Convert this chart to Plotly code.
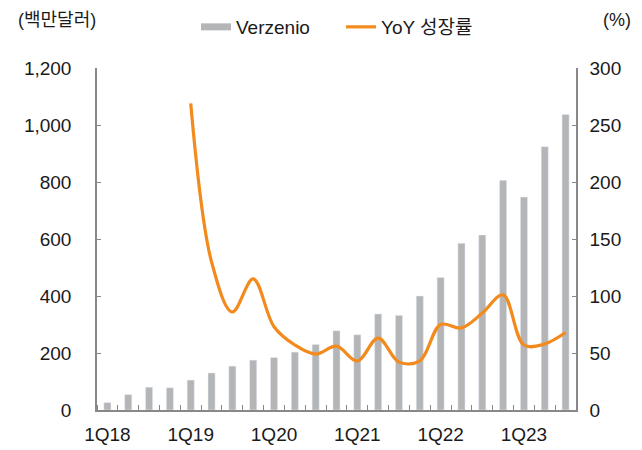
import plotly.graph_objects as go

quarters = ["1Q18","2Q18","3Q18","4Q18","1Q19","2Q19","3Q19","4Q19","1Q20","2Q20","3Q20","4Q20",
            "1Q21","2Q21","3Q21","4Q21","1Q22","2Q22","3Q22","4Q22","1Q23","2Q23","3Q23"]
verzenio = [26, 54, 80, 78, 105, 130, 154, 175, 184, 203, 230, 278,
            264, 337, 332, 400, 465, 585, 614, 806, 747, 924, 1037]
yoy = [None, None, None, None, 269, 130, 86, 115, 73, 57, 49, 56,
       43, 63, 42, 43, 75, 72, 85, 101, 57, 58, 68]
tick_labels = ["1Q18", "1Q19", "1Q20", "1Q21", "1Q22", "1Q23"]

idx = list(range(len(quarters)))
tick_idx = [quarters.index(t) for t in tick_labels]

FONT = "Liberation Sans, Noto Sans CJK KR, sans-serif"
GRAY = "#B4B5B7"
ORANGE = "#F28A1E"
AXIS = "#888888"

# page body has an 8px margin; figure is sized/positioned to compensate
W, H, OFF = 634, 442, 8

fig = go.Figure()
fig.add_trace(go.Bar(x=idx, y=verzenio, marker_color=GRAY, width=0.34,
                     showlegend=False, name="Verzenio"))
# legend proxy for bar series (wide gray swatch)
fig.add_trace(go.Scatter(x=[None], y=[None], mode="lines", name="Verzenio",
                         line=dict(color=GRAY, width=7)))
fig.add_trace(go.Scatter(x=idx, y=yoy, mode="lines", name="YoY 성장률", yaxis="y2",
                         line=dict(color=ORANGE, width=3.2, shape="spline", smoothing=1.0),
                         connectgaps=False))

fig.update_layout(
    width=W, height=H,
    margin=dict(l=97 - OFF, r=W - (576 - OFF), t=68 - OFF, b=H - (410 - OFF), autoexpand=False),
    paper_bgcolor="white", plot_bgcolor="white",
    font=dict(family=FONT, size=19, color="#1a1a1a"),
    showlegend=True,
    legend=dict(orientation="h", xref="container", yref="container",
                x=(196 - OFF) / W, xanchor="left", y=1 - (27 - OFF) / H, yanchor="middle",
                font=dict(size=19), entrywidth=100, bgcolor="rgba(0,0,0,0)",
                traceorder="normal"),
    xaxis=dict(range=[-0.5, 22.5], tickmode="array", tickvals=tick_idx, ticktext=tick_labels,
               ticks="", showline=True, linecolor=AXIS, linewidth=1.5, showgrid=False,
               zeroline=False, ticklabelstandoff=6, automargin=False,
               minor=dict(ticks="inside", tickmode="linear", tick0=0.5, dtick=1,
                          ticklen=5, tickcolor=AXIS, tickwidth=1.2, showgrid=False)),
    yaxis=dict(range=[0, 1200], tickmode="linear", dtick=200, tickformat=",d",
               ticks="inside", ticklen=4, tickwidth=1.2, tickcolor=AXIS, showline=True,
               linecolor=AXIS, linewidth=1.5, showgrid=False, zeroline=False,
               ticklabelstandoff=20, automargin=False),
    yaxis2=dict(range=[0, 300], tickmode="linear", dtick=50, overlaying="y", side="right",
                ticks="inside", ticklen=4, tickwidth=1.2, tickcolor=AXIS, showline=True,
                linecolor=AXIS, linewidth=1.5, showgrid=False, zeroline=False,
                ticklabelstandoff=8, automargin=False),
    annotations=[
        dict(text="(백만달러)", xref="paper", yref="paper", x=(16 - 97) / 479, y=(410 - 20) / 342,
             xanchor="left", yanchor="middle", showarrow=False, font=dict(size=18)),
        dict(text="(%)", xref="paper", yref="paper", x=(601 - 97) / 479, y=(410 - 20) / 342,
             xanchor="left", yanchor="middle", showarrow=False, font=dict(size=18)),
    ],
)

fig.write_html("out.html")
